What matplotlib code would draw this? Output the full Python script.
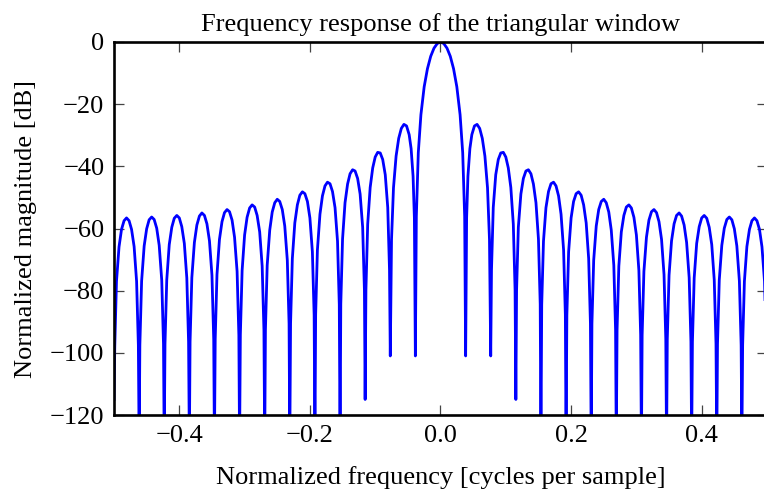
import matplotlib
matplotlib.use("Agg")
import matplotlib.pyplot as plt

# frequency response of the triangular window
# left side lobes (from -0.5 up to the main lobe), nulls included
left_freq = [-0.5000,
             -0.4988, -0.4962, -0.4923, -0.4885, -0.4846, -0.4808, -0.4769, -0.4731, -0.4692, -0.4654, -0.4627, -0.4615,
             -0.4604, -0.4577, -0.4538, -0.4500, -0.4462, -0.4423, -0.4385, -0.4346, -0.4308, -0.4269, -0.4242, -0.4231,
             -0.4219, -0.4192, -0.4154, -0.4115, -0.4077, -0.4038, -0.4000, -0.3962, -0.3923, -0.3885, -0.3858, -0.3846,
             -0.3835, -0.3808, -0.3769, -0.3731, -0.3692, -0.3654, -0.3615, -0.3577, -0.3538, -0.3500, -0.3473, -0.3462,
             -0.3450, -0.3423, -0.3385, -0.3346, -0.3308, -0.3269, -0.3231, -0.3192, -0.3154, -0.3115, -0.3088, -0.3077,
             -0.3065, -0.3038, -0.3000, -0.2962, -0.2923, -0.2885, -0.2846, -0.2808, -0.2769, -0.2731, -0.2704, -0.2692,
             -0.2681, -0.2654, -0.2615, -0.2577, -0.2538, -0.2500, -0.2462, -0.2423, -0.2385, -0.2346, -0.2319, -0.2308,
             -0.2296, -0.2269, -0.2231, -0.2192, -0.2154, -0.2115, -0.2077, -0.2038, -0.2000, -0.1962, -0.1935, -0.1923,
             -0.1912, -0.1885, -0.1846, -0.1808, -0.1769, -0.1731, -0.1692, -0.1654, -0.1615, -0.1577, -0.1550, -0.1538,
             -0.1527, -0.1500, -0.1462, -0.1423, -0.1385, -0.1346, -0.1308, -0.1269, -0.1231, -0.1192, -0.1165, -0.1154,
             -0.1142, -0.1115, -0.1077, -0.1038, -0.1000, -0.0962, -0.0923, -0.0885, -0.0846, -0.0808, -0.0781, -0.0769,
             -0.0750, -0.0720, -0.0680, -0.0640, -0.0600, -0.0560, -0.0520, -0.0480, -0.0450, -0.0420, -0.0400, -0.0385]
left_db = [-115.0,
           -97.7, -77.0, -65.9, -60.3, -57.5, -56.6, -57.5, -60.3, -65.8, -77.0, -97.5, -130.0,
           -97.5, -76.9, -65.6, -60.1, -57.2, -56.3, -57.1, -59.9, -65.4, -76.6, -97.1, -130.0,
           -97.1, -76.5, -65.2, -59.6, -56.7, -55.8, -56.6, -59.4, -64.8, -75.9, -96.5, -130.0,
           -96.4, -75.8, -64.5, -58.9, -56.0, -55.0, -55.8, -58.5, -64.0, -75.0, -95.6, -130.0,
           -95.5, -74.8, -63.5, -57.8, -54.9, -53.9, -54.6, -57.3, -62.8, -73.8, -94.3, -130.0,
           -94.2, -73.5, -62.1, -56.4, -53.4, -52.4, -53.1, -55.8, -61.1, -72.1, -92.6, -130.0,
           -92.6, -71.8, -60.5, -54.7, -51.7, -50.6, -51.3, -53.9, -59.2, -70.2, -90.6, -130.0,
           -90.5, -69.7, -58.2, -52.4, -49.3, -48.2, -48.8, -51.3, -56.6, -67.5, -87.9, -130.0,
           -87.7, -66.9, -55.4, -49.5, -46.3, -45.1, -45.6, -48.1, -53.3, -64.1, -84.5, -130.0,
           -84.3, -63.4, -51.7, -45.7, -42.4, -41.1, -41.5, -43.9, -48.9, -59.6, -79.9, -115.0,
           -79.7, -58.6, -46.8, -40.5, -37.0, -35.5, -35.7, -37.8, -42.7, -53.2, -73.3, -101.0,
           -63.5, -46.9, -36.7, -31.0, -27.8, -26.5, -27.0, -29.8, -34.3, -43.2, -56.6, -101.0]

# main lobe
main_freq = [-0.037, -0.034, -0.030, -0.025, -0.020, -0.015, -0.010, -0.005, 0.0,
             0.005, 0.010, 0.015, 0.020, 0.025, 0.030, 0.034, 0.037]
main_db = [-56.1, -35.6, -23.4, -14.4, -8.6, -4.6, -2.0, -0.5, 0.0,
           -0.5, -2.0, -4.6, -8.6, -14.4, -23.4, -35.6, -56.1]

# right side lobes (from the main lobe up to 0.5), nulls included
right_freq = [0.0385,
              0.0400, 0.0420, 0.0450, 0.0480, 0.0520, 0.0560, 0.0600, 0.0640, 0.0680, 0.0720, 0.0750, 0.0769,
              0.0781, 0.0808, 0.0846, 0.0885, 0.0923, 0.0962, 0.1000, 0.1038, 0.1077, 0.1115, 0.1142, 0.1154,
              0.1165, 0.1192, 0.1231, 0.1269, 0.1308, 0.1346, 0.1385, 0.1423, 0.1462, 0.1500, 0.1527, 0.1538,
              0.1550, 0.1577, 0.1615, 0.1654, 0.1692, 0.1731, 0.1769, 0.1808, 0.1846, 0.1885, 0.1912, 0.1923,
              0.1935, 0.1962, 0.2000, 0.2038, 0.2077, 0.2115, 0.2154, 0.2192, 0.2231, 0.2269, 0.2296, 0.2308,
              0.2319, 0.2346, 0.2385, 0.2423, 0.2462, 0.2500, 0.2538, 0.2577, 0.2615, 0.2654, 0.2681, 0.2692,
              0.2704, 0.2731, 0.2769, 0.2808, 0.2846, 0.2885, 0.2923, 0.2962, 0.3000, 0.3038, 0.3065, 0.3077,
              0.3088, 0.3115, 0.3154, 0.3192, 0.3231, 0.3269, 0.3308, 0.3346, 0.3385, 0.3423, 0.3450, 0.3462,
              0.3473, 0.3500, 0.3538, 0.3577, 0.3615, 0.3654, 0.3692, 0.3731, 0.3769, 0.3808, 0.3835, 0.3846,
              0.3858, 0.3885, 0.3923, 0.3962, 0.4000, 0.4038, 0.4077, 0.4115, 0.4154, 0.4192, 0.4219, 0.4231,
              0.4242, 0.4269, 0.4308, 0.4346, 0.4385, 0.4423, 0.4462, 0.4500, 0.4538, 0.4577, 0.4604, 0.4615,
              0.4627, 0.4654, 0.4692, 0.4731, 0.4769, 0.4808, 0.4846, 0.4885, 0.4923, 0.4962, 0.4988, 0.5000]
right_db = [-101.0,
            -56.6, -43.2, -34.3, -29.8, -27.0, -26.5, -27.8, -31.0, -36.7, -46.9, -63.5, -101.0,
            -73.3, -53.2, -42.7, -37.8, -35.7, -35.5, -37.0, -40.5, -46.8, -58.6, -79.7, -115.0,
            -79.9, -59.6, -48.9, -43.9, -41.5, -41.1, -42.4, -45.7, -51.7, -63.4, -84.3, -130.0,
            -84.5, -64.1, -53.3, -48.1, -45.6, -45.1, -46.3, -49.5, -55.4, -66.9, -87.7, -130.0,
            -87.9, -67.5, -56.6, -51.3, -48.8, -48.2, -49.3, -52.4, -58.2, -69.7, -90.5, -130.0,
            -90.6, -70.2, -59.2, -53.9, -51.3, -50.6, -51.7, -54.7, -60.5, -71.8, -92.6, -130.0,
            -92.6, -72.1, -61.1, -55.8, -53.1, -52.4, -53.4, -56.4, -62.1, -73.5, -94.2, -130.0,
            -94.3, -73.8, -62.8, -57.3, -54.6, -53.9, -54.9, -57.8, -63.5, -74.8, -95.5, -130.0,
            -95.6, -75.0, -64.0, -58.5, -55.8, -55.0, -56.0, -58.9, -64.5, -75.8, -96.4, -130.0,
            -96.5, -75.9, -64.8, -59.4, -56.6, -55.8, -56.7, -59.6, -65.2, -76.5, -97.1, -130.0,
            -97.1, -76.6, -65.4, -59.9, -57.1, -56.3, -57.2, -60.1, -65.6, -76.9, -97.5, -130.0,
            -97.5, -77.0, -65.8, -60.3, -57.5, -56.6, -57.5, -60.3, -65.9, -77.0, -97.7, -115.0]

xticks = [-0.4, -0.2, 0.0, 0.2, 0.4]
yticks = [0, -20, -40, -60, -80, -100, -120]

plt.rcParams['font.family'] = ['Liberation Serif', 'DejaVu Serif']
plt.rcParams['font.size'] = 19

freq = left_freq + main_freq + right_freq
response = left_db + main_db + right_db

fig = plt.figure(figsize=(7.64, 4.91), dpi=100)
# axes run slightly past the right edge of the picture, as in the reference
ax = fig.add_axes([114 / 764, 1 - 415 / 491, 653 / 764, 373 / 491])

ax.plot(freq, response, color='blue', linewidth=2.0)
ax.set_xlim(-0.5, 0.5)
ax.set_ylim(-120, 0)
ax.set_xticks(xticks)
ax.set_xticklabels([f'{v:.1f}'.replace('-', '\u2212') for v in xticks])
ax.set_yticks(yticks)
ax.set_yticklabels([str(v).replace('-', '\u2212') for v in yticks])

ax.tick_params(direction='in', length=7, width=0.9, color='#444444',
               top=True, right=True, pad=7)
for sp in ax.spines.values():
    sp.set_linewidth(1.9)

ax.set_title('Frequency response of the triangular window', fontsize=19, pad=8)
ax.set_xlabel('Normalized frequency [cycles per sample]', fontsize=19, labelpad=14)
ax.set_ylabel('Normalized magnitude [dB]', fontsize=19, labelpad=9)

fig.savefig('out.png', dpi=100)
